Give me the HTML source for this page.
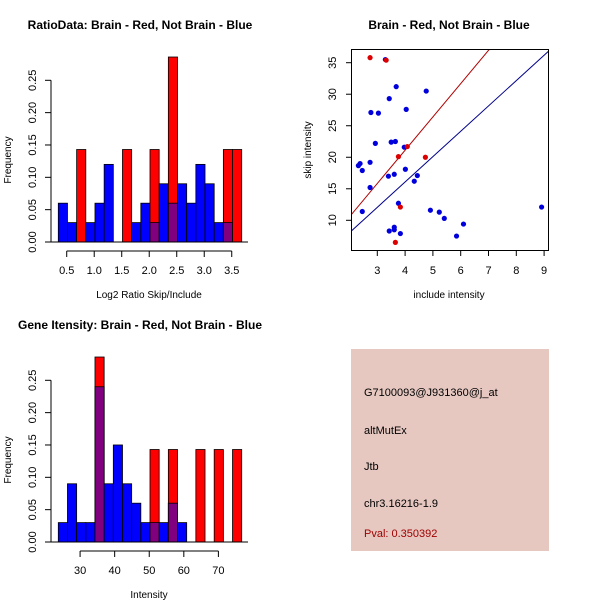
<!DOCTYPE html>
<html><head><meta charset="utf-8"><style>
body{margin:0;background:#fff}
svg{display:block;font-family:"Liberation Sans",sans-serif}
</style></head><body>
<svg id="s" width="600" height="600" viewBox="0 0 600 600">
<rect width="600" height="600" fill="#fff"/>
<g id="infobox">
<rect x="351" y="349" width="198" height="202" fill="#e6c8c1"/>
<text x="364" y="396" font-size="11">G7100093@J931360@j_at</text>
<text x="364" y="434" font-size="11">altMutEx</text>
<text x="364" y="470" font-size="11">Jtb</text>
<text x="364" y="507" font-size="11">chr3.16216-1.9</text>
<text x="364" y="537" font-size="11" fill="#a00000">Pval: 0.350392</text>
</g>
</svg>
<script>
// Histogram 1: ratio
const ratioStart = 0.347, ratioBinW = 0.1667;
const ratioBlue = [0.06,0.03,0,0.03,0.06,0.12,0,0,0.03,0.06,0.03,0.09,0.06,0.09,0.06,0.12,0.09,0.03,0.03,0];
const ratioRed  = [0,0,0.143,0,0,0,0,0.143,0,0,0.143,0,0.286,0,0,0,0,0,0.143,0.143];
const ratioXTicks = [0.5,1.0,1.5,2.0,2.5,3.0,3.5];
const freqTicks = [0,0.05,0.10,0.15,0.20,0.25];
const freqTickLabels = ["0.00","0.05","0.10","0.15","0.20","0.25"];
// Histogram 2: intensity
const intStart = 23.7, intBinW = 2.652;
const intBlue = [0.03,0.09,0.03,0.03,0.24,0.09,0.15,0.09,0.06,0.03,0.03,0.03,0.06,0.03,0,0,0,0,0,0];
const intRed  = [0,0,0,0,0.286,0,0,0,0,0,0.143,0,0.143,0,0,0.143,0,0.143,0,0.143];
const intXTicks = [30,40,50,60,70];
// Scatter
const blueX = [2.32,2.38,2.46,2.46,2.74,2.74,2.77,2.93,3.04,3.29,3.40,3.43,3.43,3.50,3.61,3.61,3.61,3.65,3.68,3.76,3.83,3.97,4.01,4.04,4.33,4.44,4.76,4.91,5.23,5.41,5.85,6.10,8.91];
const blueY = [18.67,19.0,17.9,11.4,19.2,15.2,27.1,22.2,27.0,35.5,17.0,29.3,8.3,22.4,17.3,8.9,8.5,22.5,31.2,12.7,7.9,21.6,18.1,27.6,16.2,17.1,30.5,11.6,11.3,10.3,7.5,9.4,12.1];
const redX = [2.74,3.32,3.76,4.08,4.73,3.83,3.65];
const redY = [35.8,35.4,20.1,21.7,20.0,12.1,6.5];
const lineSlopes = [5.28,4.02];
const scXTicks = [3,4,5,6,7,8,9];
const scYTicks = [10,15,20,25,30,35];

const NS="http://www.w3.org/2000/svg";
const svg=document.getElementById('s');
function mk(tag,attrs,parent){const e=document.createElementNS(NS,tag);for(const k in attrs)e.setAttribute(k,attrs[k]);(parent||svg).appendChild(e);return e;}
function txt(x,y,s,size,parent,extra){const t=mk('text',Object.assign({x:x,y:y,'font-size':size,'text-anchor':'middle'},extra||{}),parent);t.textContent=s;return t;}

function hist(oy,start,bw,blue,red,xticks,xr,title,xlabel,name){
  const g=mk('g',{});
  
  
  const X=v=>58.3+(v-start)/bw*9.17;
  const Y=v=>oy+242-v*646.8;
  for(let i=0;i<blue.length;i++){
    const x0=X(start+i*bw), w=X(start+(i+1)*bw)-x0;
    const b=blue[i], r=red[i], m=Math.min(b,r);
    if(b>0){const e=mk('rect',{x:x0,y:Y(b),width:w,height:Y(0)-Y(b),fill:'#0000ff',stroke:'#000','stroke-width':0.8},g);
      }
    if(r>0){const e=mk('rect',{x:x0,y:Y(r),width:w,height:Y(0)-Y(r),fill:'#ff0000',stroke:'#000','stroke-width':0.8},g);
      }
    if(m>0){const e=mk('rect',{x:x0,y:Y(m),width:w,height:Y(0)-Y(m),fill:'#800080',stroke:'#000','stroke-width':0.8},g);
      }
  }
  mk('line',{x1:51,x2:248,y1:Y(0),y2:Y(0),stroke:'#000'},g);
  // y axis
  mk('line',{x1:51,x2:51,y1:Y(0),y2:Y(0.25),stroke:'#000'},g);
  freqTicks.forEach((v,i)=>{mk('line',{x1:45,x2:51,y1:Y(v),y2:Y(v),stroke:'#000'},g);
    txt(0,0,freqTickLabels[i],11,g,{transform:`translate(36,${Y(v)}) rotate(-90)`});});
  txt(0,0,'Frequency',10,g,{transform:`translate(11,${oy+160}) rotate(-90)`});
  // x axis
  const ay=oy+251;
  mk('line',{x1:X(xr[0]),x2:X(xr[1]),y1:ay,y2:ay,stroke:'#000'},g);
  xticks.forEach(v=>{mk('line',{x1:X(v),x2:X(v),y1:ay,y2:ay+6,stroke:'#000'},g);txt(X(v),oy+274,String(v%1===0&&v<10?v.toFixed(1):v),11,g);});
  txt(149,oy+298,xlabel,10,g);
  txt(140,oy+29,title,12,g,{'font-weight':'bold'});
  return g;
}
const h1=hist(0,ratioStart,ratioBinW,ratioBlue,ratioRed,ratioXTicks,[0.5,3.5],'RatioData: Brain - Red, Not Brain - Blue','Log2 Ratio Skip/Include','ratio-histogram');
const h2=hist(300,intStart,intBinW,intBlue,intRed,intXTicks,[30,70],'Gene Itensity: Brain - Red, Not Brain - Blue','Intensity','intensity-histogram');
// fix intensity tick labels to integers
h2.querySelectorAll('text').forEach(t=>{if(/^\d+\.0$/.test(t.textContent))t.textContent=t.textContent.replace('.0','');});

// scatter
const sg=mk('g',{});


const SX=v=>377.3+(v-3)*27.8;
const SY=v=>62.7-(v-35)*6.304;
const cp=mk('clipPath',{id:'cp'},sg);mk('rect',{x:351,y:49,width:197,height:201},cp);
lineSlopes.forEach((m,i)=>{const l=mk('line',{x1:SX(2),y1:SY(2*m),x2:SX(10),y2:SY(10*m),stroke:i?'#00008b':'#b00000','stroke-width':1,'clip-path':'url(#cp)'},sg);
  
  });
blueX.forEach((v,i)=>{const c=mk('circle',{cx:SX(v),cy:SY(blueY[i]),r:2.6,fill:'#0000dd'},sg);
  });
redX.forEach((v,i)=>{const c=mk('circle',{cx:SX(v),cy:SY(redY[i]),r:2.6,fill:'#dd0000'},sg);
  });
mk('rect',{x:351.5,y:49.5,width:197,height:201,fill:'none',stroke:'#000'},sg);
scXTicks.forEach(v=>{mk('line',{x1:SX(v),x2:SX(v),y1:250.5,y2:256,stroke:'#000'},sg);txt(SX(v),274,String(v),11,sg);});
scYTicks.forEach(v=>{mk('line',{x1:346,x2:351.5,y1:SY(v),y2:SY(v),stroke:'#000'},sg);txt(0,0,String(v),11,sg,{transform:`translate(336,${SY(v)}) rotate(-90)`});});
txt(449,298,'include intensity',10,sg);
txt(0,0,'skip intensity',10,sg,{transform:`translate(311,150) rotate(-90)`});
txt(449,29,'Brain - Red, Not Brain - Blue',12,sg,{'font-weight':'bold'});
</script>
</body></html>
